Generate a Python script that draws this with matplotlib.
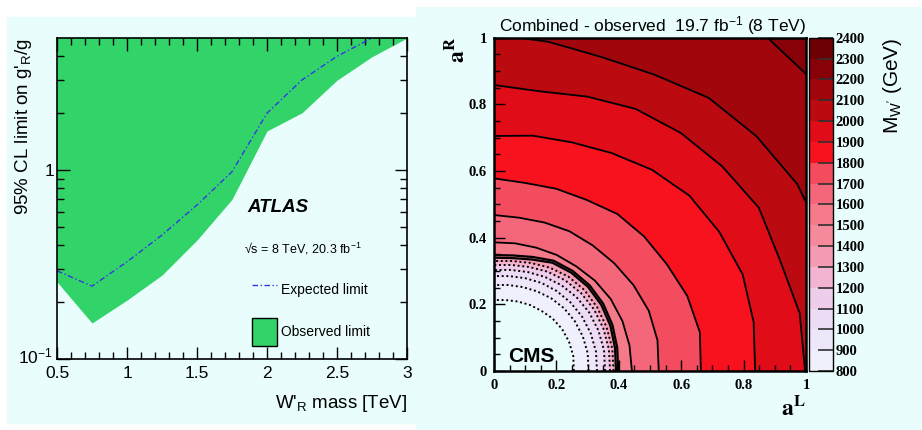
import numpy as np
import matplotlib
matplotlib.use('Agg')
import matplotlib.pyplot as plt
from matplotlib.patches import Rectangle, Patch
from matplotlib.lines import Line2D
from matplotlib.colors import ListedColormap, BoundaryNorm
from matplotlib.cm import ScalarMappable
from matplotlib.transforms import ScaledTranslation

plt.rcParams['font.family'] = ['Liberation Sans', 'DejaVu Sans']
plt.rcParams['mathtext.fontset'] = 'custom'
plt.rcParams['mathtext.rm'] = 'Liberation Sans'
plt.rcParams['mathtext.it'] = 'Liberation Sans:italic'
plt.rcParams['mathtext.bf'] = 'Liberation Sans:bold'

# ---- left panel (ATLAS) ----
wr_mass = [0.5, 0.75, 1.0, 1.25, 1.5, 1.75, 2.0, 2.25, 2.5, 2.75, 3.0]
obs_limit = [0.256, 0.155, 0.205, 0.278, 0.426, 0.70, 1.61, 2.01, 2.99, 3.98, 5.0]
exp_mass = [0.5, 0.75, 1.0, 1.25, 1.5, 1.75, 2.0, 2.25, 2.5, 2.75]
exp_limit = [0.293, 0.243, 0.327, 0.453, 0.653, 0.98, 2.0, 3.0, 4.0, 5.0]

# ---- right panel (CMS) ----
# distance from origin in the (aL, aR) plane where the W' mass limit
# crosses each level, read along rays at these angles from the aL axis
angle_deg = [0, 10, 20, 30, 40, 50, 60, 70, 80, 90]
mass_levels = [800, 900, 1000, 1100, 1200, 1300, 1400, 1500,
               1600, 1700, 1800, 1900, 2000, 2100, 2200, 2300]
level_radius = [
    [.256, .258, .256, .252, .245, .236, .229, .222, .216, .213],
    [.303, .305, .303, .299, .293, .285, .276, .268, .262, .258],
    [.330, .332, .330, .326, .320, .313, .305, .296, .289, .285],
    [.356, .358, .356, .352, .345, .336, .326, .316, .308, .303],
    [.372, .374, .373, .370, .364, .355, .344, .332, .323, .318],
    [.383, .385, .384, .382, .378, .370, .358, .345, .335, .330],
    [.391, .394, .397, .397, .393, .385, .375, .356, .344, .340],
    [.398, .401, .404, .404, .400, .392, .382, .364, .352, .348],
    [.442, .441, .438, .432, .422, .410, .402, .394, .389, .386],
    [.528, .532, .528, .516, .503, .492, .484, .474, .467, .468],
    [.663, .670, .659, .640, .628, .615, .593, .582, .573, .578],
    [.837, .845, .848, .834, .818, .788, .755, .730, .717, .705],
    [.997, .995, .975, .980, .955, .932, .908, .876, .852, .858],
    [1.10, 1.12, 1.13, 1.122, 1.097, 1.07, 1.027, 1.003, 1.003, 1.01],
    [1.20, 1.22, 1.25, 1.28, 1.345, 1.33, 1.30, 1.20, 1.15, 1.15],
    [1.50, 1.50, 1.50, 1.50, 1.50, 1.50, 1.50, 1.50, 1.50, 1.50],
]
cbar_bounds = list(range(800, 2500, 100))
bin_colors = ['#f0f0fc', '#eee7fa', '#ecdcf5', '#edcdea', '#f2b4d0', '#f39cb4',
              '#f48a9c', '#f57a8a', '#f4677a', '#f24c5e', '#f8121e', '#e00c17',
              '#bc0a11', '#a2060d', '#880008', '#6c0002']
dotted_levels = [800, 900, 1000, 1100, 1200, 1300]
thick_levels = [1400, 1500]
solid_levels = [1600, 1700, 1800, 1900, 2000, 2100, 2200]

W, H = 922, 430
fig = plt.figure(figsize=(W / 100, H / 100), dpi=100)
bg = '#e9fdfd'
fig.patches.append(Rectangle((7 / W, 1 - 423 / H), 409 / W, 406 / H,
                             transform=fig.transFigure, color=bg, zorder=-5))
fig.patches.append(Rectangle((416 / W, 0), 506 / W, 423 / H,
                             transform=fig.transFigure, color=bg, zorder=-5))

# ================= left =================
ax = fig.add_axes([57 / W, 1 - 359 / H, 350 / W, 321 / H])
ax.set_facecolor('none')
green = '#32d46a'
exp_style = (0, (4, 1.8, 1, 1.8))
ax.fill_between(wr_mass, obs_limit, 10, color=green, lw=0)
ax.plot(exp_mass, exp_limit, color='#3535e6', lw=1.0, ls=exp_style)
ax.set_yscale('log')
ax.set_xlim(0.5, 3.0)
ax.set_ylim(0.1, 5.0)
ax.set_xticks([0.5, 1, 1.5, 2, 2.5, 3], labels=['0.5', '1', '1.5', '2', '2.5', '3'])
ax.set_xticks(np.arange(0.6, 3.0, 0.1), minor=True)
ax.set_yticks([0.1, 1], labels=[r'$10^{-1}$', '1'])
ax.set_yticks([0.2, 0.3, 0.4, 0.5, 0.6, 0.7, 0.8, 0.9, 2, 3, 4], minor=True,
              labels=[])
ax.tick_params(which='both', direction='in', top=True, right=True, width=1.0,
               labelsize=12.5)
ax.tick_params(which='major', length=9)
ax.tick_params(which='minor', length=5)
ax.tick_params(axis='x', pad=5)
ax.tick_params(axis='y', pad=2)
for s in ax.spines.values():
    s.set_linewidth(1.2)
# nudge the 10^-1 label up a little so it clears the 0.5 label
lab = ax.get_yticklabels()[0]
lab.set_transform(lab.get_transform() + ScaledTranslation(-0.01, 0.04, fig.dpi_scale_trans))

ax.text(1.857, 0.602, 'ATLAS', fontsize=13.5, fontweight='bold', style='italic')
ax.text(1.836, 0.362, '√s = 8 TeV, 20.3 fb$^{-1}$', fontsize=9)
handles = [Line2D([], [], color='#3535e6', lw=1.0, ls=exp_style),
           Patch(facecolor=green, edgecolor='black', lw=1.0)]
ax.legend(handles, ['Expected limit', 'Observed limit'], loc='upper left',
          bbox_to_anchor=(0.557, 0.2576), frameon=False, borderpad=0,
          borderaxespad=0, handlelength=1.8, handleheight=2.72,
          handletextpad=0.29, labelspacing=1.0, fontsize=10)

fig.text(24 / W, 1 - 38 / H, "95% CL limit on g'$_\\mathregular{R}$/g",
         rotation=90, ha='center', va='top', fontsize=13.5)
fig.text(407 / W, 1 - 403 / H, "W'$_\\mathregular{R}$ mass [TeV]",
         ha='right', va='center', fontsize=13.5)

# ================= right =================
ax2 = fig.add_axes([494 / W, 1 - 371 / H, 312 / W, 333.3 / H])
ax2.set_facecolor('none')
theta = np.deg2rad(angle_deg)
R = np.array(level_radius)
X = R * np.cos(theta)[None, :]
Y = R * np.sin(theta)[None, :]
Z = np.repeat(np.array(mass_levels, dtype=float)[:, None], len(angle_deg), axis=1)
ax2.contourf(X, Y, Z, levels=cbar_bounds, colors=bin_colors)
ax2.contour(X, Y, Z, levels=dotted_levels, colors='black', linewidths=1.4,
            linestyles=[(0, (1, 1.4))])
ax2.contour(X, Y, Z, levels=thick_levels, colors='black', linewidths=1.6)
ax2.contour(X, Y, Z, levels=solid_levels, colors='black', linewidths=1.3)
ax2.set_xlim(0, 1)
ax2.set_ylim(0, 1)
ticks = [0, 0.2, 0.4, 0.6, 0.8, 1]
tlabels = ['0', '0.2', '0.4', '0.6', '0.8', '1']
ax2.set_xticks(ticks, labels=tlabels)
ax2.set_yticks(ticks, labels=tlabels)
ax2.set_xticks(np.arange(0.05, 1.0, 0.05), minor=True)
ax2.set_yticks(np.arange(0.05, 1.0, 0.05), minor=True)
ax2.tick_params(which='both', direction='in', width=1.0, labelsize=10.5,
                labelfontfamily='Liberation Serif')
ax2.tick_params(which='major', length=8)
ax2.tick_params(which='minor', length=4)
ax2.tick_params(axis='x', pad=6)
ax2.tick_params(axis='y', pad=5)
for lbl in ax2.get_xticklabels() + ax2.get_yticklabels():
    lbl.set_fontweight('bold')
for s in ax2.spines.values():
    s.set_linewidth(1.8)

ax2.text(0.045, 0.028, 'CMS', fontsize=15, fontweight='bold')
fig.text(499 / W, 1 - 31.7 / H,
         'Combined - observed  19.7 fb$^{-1}$ (8 TeV)', fontsize=12.5,
         ha='left', va='baseline')
fig.text(457 / W, 1 - 37 / H, r'$\mathbf{a}^{\mathbf{R}}$', rotation=90,
         ha='center', va='top', fontsize=17, math_fontfamily='stix')
fig.text(806 / W, 1 - 415 / H, r'$\mathbf{a}^{\mathbf{L}}$', ha='right',
         va='baseline', fontsize=17, math_fontfamily='stix')

cax = fig.add_axes([809 / W, 1 - 371 / H, 24 / W, 333.3 / H])
sm = ScalarMappable(norm=BoundaryNorm(cbar_bounds, len(bin_colors)),
                    cmap=ListedColormap(bin_colors))
cb = fig.colorbar(sm, cax=cax, ticks=cbar_bounds)
cb.outline.set_linewidth(1.0)
cax.tick_params(direction='in', length=11, width=1.2, color='#303030', pad=2,
                labelsize=10.5, labelfontfamily='Liberation Serif')
for lbl in cax.get_yticklabels():
    lbl.set_fontweight('bold')
fig.text(892 / W, 1 - 37 / H, "M$_\\mathregular{W'}$ (GeV)", rotation=90,
         ha='center', va='top', fontsize=15)

fig.savefig('out.png', dpi=100)
